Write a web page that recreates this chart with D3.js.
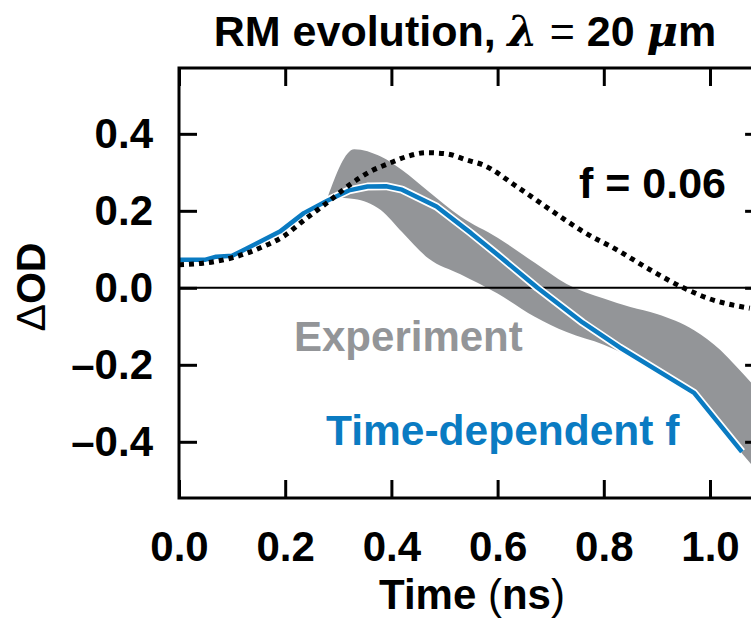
<!DOCTYPE html>
<html>
<head>
<meta charset="utf-8">
<script src="https://cdn.jsdelivr.net/npm/d3@7"></script>
<style>
  body { margin: 0; background: #fff; }
  text { font-family: "Liberation Sans", Arial, Helvetica, sans-serif; font-weight: bold; }
</style>
</head>
<body>
<div id="chart"></div>
<script>
// time-dependent f model (blue)
const modelT = [0, 0.05, 0.07, 0.10, 0.12, 0.19, 0.235, 0.28, 0.32, 0.355, 0.39, 0.42, 0.485, 0.55, 0.60, 0.675, 0.76, 0.83, 0.97, 1.06];
const modelV = [0.073, 0.073, 0.081, 0.083, 0.097, 0.146, 0.194, 0.227, 0.253, 0.263, 0.264, 0.255, 0.211, 0.142, 0.086, 0.0, -0.09, -0.155, -0.273, -0.426];

// constant f = 0.06 model (dotted)
const constT = [0, 0.045, 0.10, 0.158, 0.196, 0.24, 0.278, 0.322, 0.36, 0.397, 0.429, 0.466, 0.504, 0.542, 0.573, 0.636, 0.699, 0.761, 0.824, 0.887, 0.95, 1.0, 1.075];
const constV = [0.06, 0.064, 0.078, 0.107, 0.133, 0.181, 0.22, 0.268, 0.302, 0.324, 0.341, 0.351, 0.348, 0.332, 0.319, 0.263, 0.203, 0.146, 0.099, 0.047, 0.0, -0.029, -0.053];

// experiment band
const expT = [0.28, 0.33, 0.38, 0.42, 0.47, 0.53, 0.60, 0.67, 0.73, 0.80, 0.85, 0.90, 0.97, 1.02, 1.05, 1.08];
const expLow = [0.235, 0.231, 0.202, 0.145, 0.076, 0.035, -0.015, -0.075, -0.115, -0.148, -0.18, -0.22, -0.28, -0.362, -0.413, -0.462];
const expHigh = [0.235, 0.36, 0.341, 0.306, 0.25, 0.185, 0.13, 0.065, 0.01, -0.028, -0.05, -0.068, -0.11, -0.162, -0.205, -0.25];

const xTicks = [0, 0.2, 0.4, 0.6, 0.8, 1.0];
const xTickLabels = ["0.0", "0.2", "0.4", "0.6", "0.8", "1.0"];
const yTicks = [-0.4, -0.2, 0, 0.2, 0.4];
const yTickLabels = ["\u20130.4", "\u20130.2", "0.0", "0.2", "0.4"];

const W = 751, H = 618;
const blue = "#0a7bc2", grey = "#939598";

const svg = d3.select("#chart").append("svg")
  .attr("width", W)
  .attr("height", H);

const x = d3.scaleLinear().domain([0, 1.1]).range([179, 763.1]);
const y = d3.scaleLinear().domain([-0.546, 0.571]).range([498, 68]);

const model = modelT.map((t, i) => ({t: t, v: modelV[i]}));
const fconst = constT.map((t, i) => ({t: t, v: constV[i]}));
const exp = expT.map((t, i) => ({t: t, lo: expLow[i], hi: expHigh[i]}));

// band
svg.append("path")
  .datum(exp)
  .attr("fill", grey)
  .attr("d", d3.area()
    .x(d => x(d.t))
    .y0(d => y(d.lo))
    .y1(d => y(d.hi))
    .curve(d3.curveMonotoneX));

// zero line
svg.append("line")
  .attr("x1", x(0)).attr("x2", x(1.1))
  .attr("y1", y(0)).attr("y2", y(0))
  .attr("stroke", "#000").attr("stroke-width", 2);

// blue model with white casing
const lineM = d3.line().x(d => x(d.t)).y(d => y(d.v));
svg.append("path").datum(model)
  .attr("fill", "none").attr("stroke", "#fff").attr("stroke-width", 8)
  .attr("stroke-linejoin", "round")
  .attr("d", lineM);
svg.append("path").datum(model)
  .attr("fill", "none").attr("stroke", blue).attr("stroke-width", 4.5)
  .attr("stroke-linejoin", "round")
  .attr("d", lineM);

// dotted constant f
svg.append("path").datum(fconst)
  .attr("fill", "none").attr("stroke", "#000").attr("stroke-width", 5)
  .attr("stroke-dasharray", "5,5")
  .attr("d", d3.line().x(d => x(d.t)).y(d => y(d.v)).curve(d3.curveMonotoneX));

// axes
const fontSize = 42;
function styleAxis(g) {
  g.select(".domain").remove();
  g.selectAll(".tick line").attr("stroke", "#000").attr("stroke-width", 3);
  g.selectAll(".tick text").attr("font-size", fontSize).attr("fill", "#000")
    .attr("font-family", "Liberation Sans, Arial, sans-serif").attr("font-weight", "bold");
}

svg.append("g")
  .attr("transform", "translate(0," + y.range()[0] + ")")
  .call(d3.axisBottom(x).tickValues(xTicks).tickSizeInner(-18).tickSizeOuter(0).tickPadding(33)
    .tickFormat((d, i) => xTickLabels[i]))
  .call(styleAxis);

svg.append("g")
  .attr("transform", "translate(0," + y.range()[1] + ")")
  .call(d3.axisTop(x).tickValues(xTicks).tickSizeInner(-18).tickSizeOuter(0).tickFormat(""))
  .call(styleAxis);

svg.append("g")
  .attr("transform", "translate(" + x.range()[0] + ",0)")
  .call(d3.axisLeft(y).tickValues(yTicks).tickSizeInner(-18).tickSizeOuter(0).tickPadding(26)
    .tickFormat((d, i) => yTickLabels[i]))
  .call(styleAxis);

svg.append("g")
  .attr("transform", "translate(" + x.range()[1] + ",0)")
  .call(d3.axisRight(y).tickValues(yTicks).tickSizeInner(-18).tickSizeOuter(0).tickFormat(""))
  .call(styleAxis);

// frame
svg.append("rect")
  .attr("x", x.range()[0]).attr("y", y.range()[1])
  .attr("width", x.range()[1] - x.range()[0])
  .attr("height", y.range()[0] - y.range()[1])
  .attr("fill", "none").attr("stroke", "#000").attr("stroke-width", 3);

// labels
const title = svg.append("text")
  .attr("x", 465).attr("y", 46)
  .attr("text-anchor", "middle")
  .attr("font-size", 43);
title.append("tspan").text("RM evolution, ");
title.append("tspan").attr("font-family", "DejaVu Serif, serif").attr("font-style", "italic").text("\u03bb");
title.append("tspan").attr("font-weight", "normal").text(" = ");
title.append("tspan").text("20 ");
title.append("tspan").attr("font-family", "DejaVu Serif, serif").attr("font-style", "italic").text("\u03bc");
title.append("tspan").text("m");

const yl = svg.append("text")
  .attr("transform", "translate(45,287) rotate(-90)")
  .attr("text-anchor", "middle")
  .attr("font-size", 41);
yl.append("tspan").attr("font-weight", "normal").text("\u0394");
yl.append("tspan").text("OD");

const xl = svg.append("text")
  .attr("x", 472).attr("y", 609)
  .attr("text-anchor", "middle")
  .attr("font-size", 42);
xl.append("tspan").text("Time ");
xl.append("tspan").attr("font-weight", "normal").text("(");
xl.append("tspan").text("ns");
xl.append("tspan").attr("font-weight", "normal").text(")");

svg.append("text")
  .attr("x", 579).attr("y", 198)
  .attr("font-size", 43)
  .attr("fill", "#000")
  .text("f = 0.06");

svg.append("text")
  .attr("x", 294).attr("y", 351)
  .attr("font-size", 42)
  .attr("fill", grey)
  .text("Experiment");

svg.append("text")
  .attr("x", 326).attr("y", 445)
  .attr("font-size", 42.5)
  .attr("fill", blue)
  .text("Time-dependent f");
</script>
</body>
</html>
